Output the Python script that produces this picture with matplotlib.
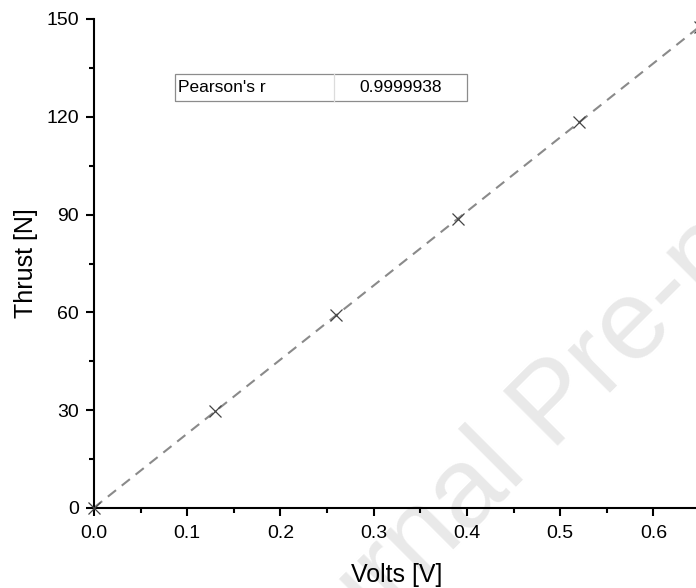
import numpy as np
import matplotlib
matplotlib.use("Agg")
import matplotlib.pyplot as plt
from matplotlib.ticker import MultipleLocator

plt.rcParams['font.family'] = ['Liberation Sans', 'DejaVu Sans']

#===DATA=======================================================================
volts = [0.0, 0.13, 0.26, 0.39, 0.52, 0.65]
thrust = [0.0, 29.7, 59.2, 88.7, 118.4, 147.6]
stat_label = "Pearson's r"
stat_value = "0.9999938"

#===FIGURE=====================================================================
fig = plt.figure(figsize=(6.96, 5.88), dpi=100)

# watermark, behind the axes
fig.text(0.381, -0.2544, 'Journal Pre-proof', rotation=45, rotation_mode='anchor',
         ha='left', va='baseline', fontsize=82, color='#e9e9e9', zorder=-1)

ax = fig.add_axes([94/696, 80/588, 606/696, 489/588])
ax.patch.set_alpha(0)

# linear fit through the points
k, b = np.polyfit(volts, thrust, 1)
x_fit = np.linspace(0, 0.65, 50)
ax.plot(x_fit, k*x_fit + b, color='#8a8a8a', lw=1.5, ls=(0, (5, 3.5)), zorder=2)

ax.plot(volts, thrust, ls='none', marker='x', ms=9, mew=0.9, color='#444444',
        clip_on=False, zorder=3)

ax.set_xlim(0, 0.65)
ax.set_ylim(0, 150)
ax.xaxis.set_major_locator(MultipleLocator(0.1))
ax.xaxis.set_minor_locator(MultipleLocator(0.05))
ax.yaxis.set_major_locator(MultipleLocator(30))
ax.yaxis.set_minor_locator(MultipleLocator(15))
ax.xaxis.set_major_formatter(plt.FuncFormatter(lambda v, p: f"{v:.1f}"))

for side in ['top', 'right']:
    ax.spines[side].set_visible(False)
for side in ['left', 'bottom']:
    ax.spines[side].set_linewidth(1.5)

ax.tick_params(which='major', direction='out', length=6, width=1.5, labelsize=14)
ax.tick_params(axis='x', which='major', pad=6.5)
ax.tick_params(axis='y', which='major', pad=5)
ax.tick_params(which='minor', direction='out', length=3.5, width=1.5)

ax.set_xlabel('Volts [V]', fontsize=18, labelpad=15)
ax.set_ylabel('Thrust [N]', fontsize=18, labelpad=6)

# stats table
tbl = ax.table(cellText=[[stat_label, stat_value]], colWidths=[0.545, 0.455],
               bbox=[0.1337, 0.832, 0.4818, 0.0552], zorder=4)
tbl.auto_set_font_size(False)
for (r, c), cell in tbl.get_celld().items():
    cell.set_edgecolor('#8c8c8c')
    cell.set_linewidth(0.9)
    cell.set_text_props(fontsize=12.5)
    if c == 0:
        cell.set_text_props(ha='left')
        cell.PAD = 0.02
        cell.visible_edges = 'BLT'
    else:
        cell.set_text_props(ha='center')
        cell.visible_edges = 'BRT'
ax.plot([0.1337 + 0.4818*0.545]*2, [0.832, 0.832 + 0.0552], transform=ax.transAxes,
        color='#dcdcdc', lw=0.9, zorder=5)

fig.savefig('out.png', dpi=100)
